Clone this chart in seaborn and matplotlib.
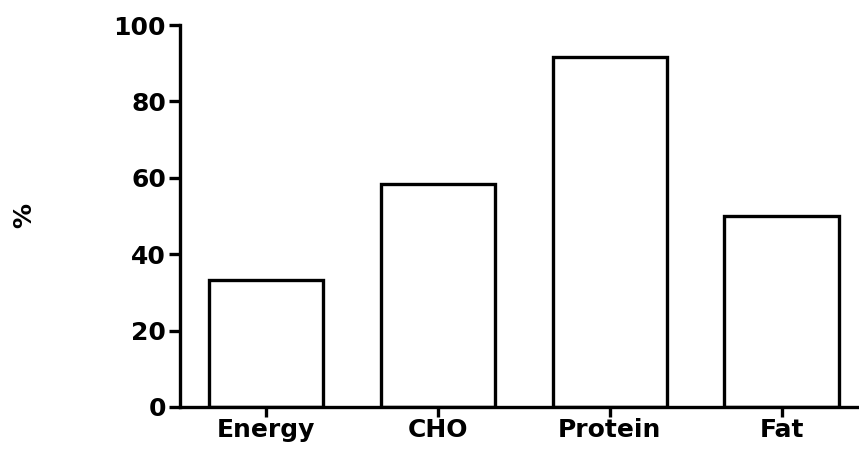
import matplotlib
matplotlib.use("Agg")
import matplotlib.pyplot as plt
import seaborn as sns
import pandas as pd

categories = ["Energy", "CHO", "Protein", "Fat"]
percent = [33.3, 58.3, 91.7, 50.0]

sns.set_theme(style="ticks")
plt.rcParams["font.family"] = ["DejaVu Sans"]
plt.rcParams["font.weight"] = "bold"

df = pd.DataFrame({"nutrient": categories, "percent": percent})

fig = plt.figure(figsize=(8.59, 4.5), dpi=100)
ax = fig.add_axes([0.2095, 0.0956, 0.7905, 0.8488])
sns.barplot(data=df, x="nutrient", y="percent", color="white", edgecolor="black",
            linewidth=2.4, width=0.665, ax=ax)

ax.set_xlim(-0.5, 3.45)
ax.set_ylim(0, 100)
ax.set_yticks([0, 20, 40, 60, 80, 100])
ax.set_xlabel("")
ax.set_ylabel("%", fontsize=18, fontweight="heavy", color="black", labelpad=56)
sns.despine(ax=ax)
for s in ["left", "bottom"]:
    ax.spines[s].set_linewidth(2.4)
    ax.spines[s].set_color("black")
ax.tick_params(axis="y", width=2.4, length=8, labelsize=18, colors="black", pad=2)
ax.tick_params(axis="x", width=2.4, length=7, labelsize=18, colors="black", pad=1)
for lab in ax.get_xticklabels() + ax.get_yticklabels():
    lab.set_fontweight("heavy")

fig.savefig("out.png", dpi=100)
